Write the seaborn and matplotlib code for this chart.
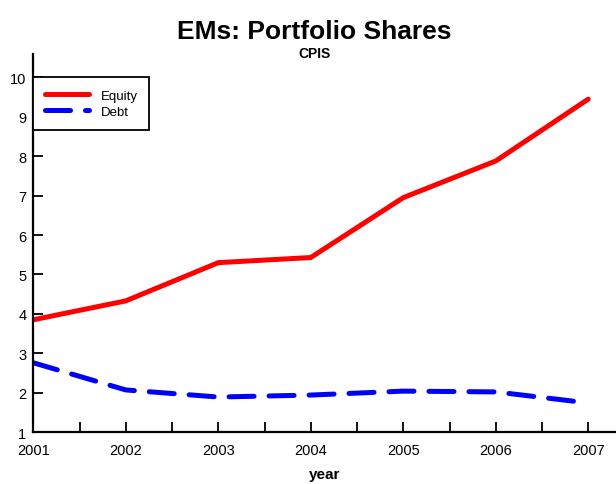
import numpy as np
import pandas as pd
import matplotlib
matplotlib.use("Agg")
import matplotlib.pyplot as plt
from matplotlib.ticker import MultipleLocator
import seaborn as sns

# ── Data ───────────────────────────────────────────
years  = [2001, 2002, 2003, 2004, 2005, 2006, 2007]
equity = [3.85, 4.33, 5.30, 5.43, 6.95, 7.88, 9.45]
debt   = [2.76, 2.07, 1.89, 1.94, 2.04, 2.02, 1.74]
series = ["Equity", "Debt"]

df = pd.DataFrame({
    "year":   years * 2,
    "share":  equity + debt,
    "series": [series[0]] * len(years) + [series[1]] * len(years),
})

sns.set_style("ticks")
plt.rcParams["font.family"] = ["Liberation Sans", "DejaVu Sans"]
plt.rcParams.update({"text.color": "black", "axes.labelcolor": "black",
                     "xtick.color": "black", "ytick.color": "black"})

fig = plt.figure(figsize=(6.16, 4.85), dpi=100)
ax = fig.add_axes([0.054, 0.107, 0.946, 0.780])

sns.lineplot(data=df, x="year", y="share", hue="series", style="series",
             palette={"Equity": "#ff0000", "Debt": "#0000ff"},
             dashes={"Equity": "", "Debt": (5, 3)},
             linewidth=3.6, ax=ax)
for ln in ax.lines:
    ln.set_dash_capstyle("round")
    ln.set_solid_capstyle("round")

ax.set_xlim(2001, 2007.3)
ax.set_ylim(1, 10.6)
ax.xaxis.set_major_locator(MultipleLocator(1))
ax.xaxis.set_minor_locator(MultipleLocator(0.5))
ax.yaxis.set_major_locator(MultipleLocator(1))
ax.tick_params(axis="both", which="both", direction="in", length=7,
               width=1.3, labelsize=10.5, color="black")
ax.tick_params(axis="y", pad=5)
ax.tick_params(axis="x", pad=8)

sns.despine(ax=ax)
for s in ["left", "bottom"]:
    ax.spines[s].set_linewidth(1.6)
    ax.spines[s].set_color("black")

ax.set_xlabel("year", fontsize=11, fontweight="bold", labelpad=7)
ax.set_ylabel("")

leg = ax.legend(loc="upper left", bbox_to_anchor=(0, 0.9375),
                borderaxespad=0, fontsize=9.5, handlelength=3.3,
                handletextpad=0.9, labelspacing=0.3, borderpad=0.9,
                fancybox=False, framealpha=1, edgecolor="black")
leg.get_frame().set_linewidth(1.3)

fig.text(0.51, 0.935, "EMs: Portfolio Shares", ha="center", va="center",
         fontsize=19, fontweight="bold")
fig.text(0.51, 0.888, "CPIS", ha="center", va="center",
         fontsize=10, fontweight="bold")

fig.savefig("out.png", dpi=100)
